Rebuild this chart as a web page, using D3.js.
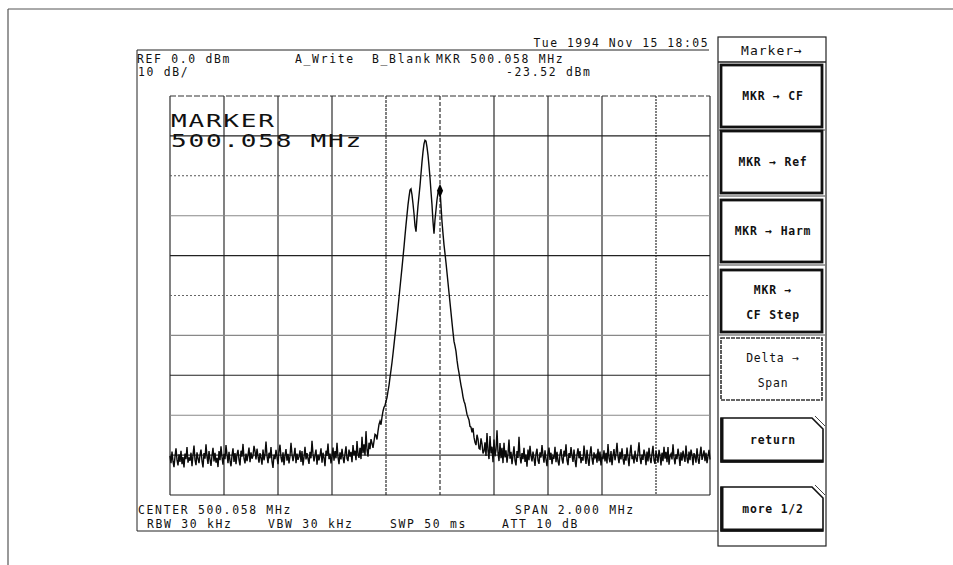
<!DOCTYPE html>
<html><head><meta charset="utf-8">
<script src="https://cdn.jsdelivr.net/npm/d3@7"></script>
<style>
body{margin:0;background:#fff}
svg{display:block}
text{font-family:"DejaVu Sans Mono","Liberation Mono",monospace;fill:#111}
</style>
</head><body><svg id="c" width="953" height="565"></svg>
<script>
// ---------------- data ----------------
const refLevelDbm = 0;
const dbPerDiv = 10;
const centerMHz = 500.058;
const spanMHz = 2.0;
const markerMHz = 500.058;
const markerDbm = -23.52;

const headerLeft = ["REF 0.0 dBm", "10 dB/"];
const traceModes = ["A_Write", "B_Blank"];
const markerReadout = ["MKR 500.058 MHz", "-23.52 dBm"];
const dateStamp = "Tue 1994 Nov 15 18:05";
const bigMarker = ["MARKER", "500.058 MHz"];
const footerRow1 = ["CENTER 500.058 MHz", "SPAN 2.000 MHz"];
const footerRow2 = ["RBW 30 kHz", "VBW 30 kHz", "SWP 50 ms", "ATT 10 dB"];
const menuTitle = "Marker→";
const softkeys = [["MKR → CF"], ["MKR → Ref"], ["MKR → Harm"], ["MKR →", "CF Step"], ["Delta →", "Span"]];
const navKeys = ["return", "more 1/2"];

// sweep trace levels (dBm); sweep points equally spaced across the span
const levelsLeft = [
-90.2,-92.0,-89.1,-91.6,-93.0,-90.4,-88.3,-91.2,-92.6,-89.8,
-91.7,-88.9,-92.3,-90.5,-93.1,-89.6,-91.0,-88.0,-91.9,-90.6,
-91.4,-89.4,-92.8,-90.0,-87.6,-91.2,-92.5,-89.3,-90.8,-92.0,
-90.0,-88.6,-91.5,-93.1,-89.5,-90.9,-87.3,-90.4,-92.2,-89.0,
-91.1,-92.7,-90.1,-88.2,-91.6,-89.4,-91.9,-90.7,-93.0,-89.0,
-91.3,-87.8,-90.5,-92.4,-89.7,-91.0,-87.5,-89.9,-92.0,-89.2,
-91.4,-92.8,-90.1,-88.3,-91.7,-89.5,-92.3,-89.8,-88.7,-91.2,
-92.6,-88.9,-90.4,-87.2,-90.8,-92.1,-89.6,-91.5,-90.0,-88.1,
-91.8,-89.3,-90.9,-90.2,-87.7,-89.0,-91.1,-88.4,-90.3,-91.9,
-89.5,-90.7,-92.4,-88.6,-91.3,-89.9,-86.6,-90.2,-92.0,-89.4,
-90.8,-88.0,-91.6,-93.2,-89.9,-91.0,-88.7,-90.5,-92.3,-89.1,
-87.4,-90.6,-91.8,-89.3,-92.5,-90.0,-88.5,-91.4,-89.7,-92.1,
-90.3,-86.9,-89.8,-91.5,-90.1,-88.2,-92.0,-89.6,-91.2,-90.4,
-88.8,-91.7,-89.0,-92.6,-90.5,-87.9,-91.1,-89.5,-90.9,-92.2,
-89.2,-90.8,-86.4,-89.7,-91.6,-90.0,-88.6,-92.4,-89.9,-91.3,
-90.1,-88.3,-91.9,-89.4,-90.7,-92.8,-88.9,-90.2,-87.1,-91.0,
-89.6,-92.1,-90.3,-88.1,-91.4,-89.0,-90.8,-86.9,-90.5,-92.3,
-89.3,-91.1,-88.4,-90.6,-92.0,-89.7,-87.8,-90.9,-91.5,-88.6,
-90.4,-89.2,-91.8,-87.5,-90.0,-88.9,-91.3,-86.5,-89.8,-90.7,
-88.2,-91.0,-85.4,-89.5,-87.3,-90.1,-84.0,-88.7,-90.4,-86.9];
const levelsPeak = [
-88.5,-86.0,-87.0,-88.2,-86.5,-84.8,-85.0,-86.1,-84.0,-82.3,
-81.5,-82.4,-80.5,-79.0,-78.0,-77.6,-76.5,-75.6,-74.0,-72.5,
-70.5,-68.7,-66.8,-64.6,-62.3,-60.0,-57.8,-55.4,-53.0,-50.5,
-48.0,-45.5,-43.0,-40.4,-37.8,-35.0,-32.3,-29.8,-27.3,-25.3,
-23.6,-23.3,-24.8,-27.0,-29.5,-32.5,-34.0,-30.5,-27.5,-25.0,
-22.5,-19.5,-16.5,-14.0,-12.0,-11.1,-11.3,-12.8,-14.8,-17.5,
-20.5,-24.0,-27.3,-31.5,-34.5,-31.0,-28.5,-26.0,-24.3,-23.7,
-23.52,-27.5,-31.5,-34.5,-37.3,-39.5,-41.8,-44.3,-46.8,-49.3,
-51.8,-54.3,-56.8,-59.2,-61.5,-62.6,-64.0,-66.2,-68.0,-69.4,
-71.0,-72.5,-73.8,-75.4,-76.5,-77.2,-78.5,-79.8,-80.5,-81.2,
-82.8,-83.0,-84.3,-83.2,-85.5,-86.8,-87.5,-84.9,-86.0,-88.3,
-88.5,-85.8,-87.2,-89.6,-89.0];
const levelsRight = [
-86.8,-90.2,-84.5,-88.9,-91.0,-85.2,-89.6,-87.9,-91.8,-86.1,
-90.3,-88.7,-83.8,-89.4,-91.5,-87.0,-90.8,-88.2,-92.0,-86.9,
-90.6,-88.8,-91.9,-89.7,-86.1,-90.9,-89.2,-92.3,-90.0,-87.8,
-91.4,-92.6,-89.0,-90.7,-85.4,-90.3,-92.1,-89.5,-91.0,-88.2,
-91.7,-89.9,-92.9,-88.6,-91.3,-87.7,-90.2,-91.6,-89.1,-90.8,
-92.7,-89.6,-88.4,-91.4,-92.2,-89.3,-90.6,-87.5,-90.0,-91.9,
-88.8,-91.1,-92.8,-89.7,-88.1,-91.2,-89.4,-92.3,-90.3,-90.9,
-87.9,-91.8,-89.2,-91.5,-92.6,-89.8,-88.5,-91.0,-92.1,-88.9,
-90.4,-87.3,-91.3,-92.5,-89.5,-90.7,-88.0,-90.1,-91.7,-88.6,
-91.2,-93.0,-89.9,-88.3,-90.8,-89.0,-92.0,-90.5,-91.4,-87.6,
-90.2,-92.2,-88.7,-91.1,-92.7,-89.6,-87.8,-90.9,-92.4,-89.3,
-90.6,-90.0,-91.9,-88.4,-91.5,-89.1,-92.6,-90.3,-91.0,-88.8,
-91.6,-89.4,-92.1,-87.2,-90.7,-91.8,-89.0,-92.5,-90.1,-88.5,
-91.3,-89.7,-86.9,-90.4,-92.0,-89.2,-91.1,-88.3,-90.9,-92.4,
-89.8,-91.4,-88.1,-90.6,-92.8,-89.5,-87.4,-91.0,-90.2,-92.1,
-88.9,-90.8,-91.7,-89.3,-86.8,-90.5,-92.3,-89.9,-91.2,-88.6,
-90.0,-92.5,-89.1,-91.6,-88.2,-90.7,-92.0,-89.6,-87.7,-91.3,
-92.2,-89.0,-90.4,-91.9,-88.7,-90.1,-92.6,-89.4,-91.5,-87.9,
-90.9,-89.2,-91.8,-88.0,-92.4,-90.3,-89.7,-91.1,-87.3,-90.6,
-92.3,-89.8,-91.0,-88.4,-90.2,-92.7,-89.3,-91.4,-88.9,-90.5,
-91.7,-87.6,-90.8,-92.1,-89.1,-91.3,-88.6,-90.0,-92.5,-89.5,
-90.4,-91.9,-88.3,-90.9,-92.2,-89.7,-87.9,-91.2,-90.1,-88.8,
-91.5,-89.4,-92.0,-90.3,-88.7,-91.1];

// ---------------- drawing ----------------
const svg = d3.select("#c");
const levels = levelsLeft.concat(levelsPeak, levelsRight);
const nPts = levels.length;
const fStart = centerMHz - spanMHz / 2, fStop = centerMHz + spanMHz / 2;
const trace = levels.map((v, i) => ({f: fStart + i * spanMHz / (nPts - 1), v}));

const G = {l: 170, r: 710, t: 96, b: 495};
const x = d3.scaleLinear().domain([fStart, fStop]).range([G.l, G.r]);
const y = d3.scaleLinear().domain([refLevelDbm - 10 * dbPerDiv, refLevelDbm]).range([G.b, G.t]);

// page border
svg.append("line").attr("x1", 8).attr("y1", 9).attr("x2", 953).attr("y2", 9).attr("stroke", "#555").attr("stroke-width", 1);
svg.append("line").attr("x1", 8).attr("y1", 9).attr("x2", 8).attr("y2", 565).attr("stroke", "#555").attr("stroke-width", 1.2);

// screen frame
svg.append("path").attr("d", "M137,50 H709 M137,50 V531 H718").attr("fill", "none").attr("stroke", "#222").attr("stroke-width", 1);

// grid
const vStyles = ["", "", "", "", "3,1", "4,2", "", "", "", "2,1", ""];
const vTicks = d3.range(11).map(i => fStart + i * spanMHz / 10);
svg.append("g").selectAll("line").data(vTicks).join("line")
  .attr("x1", d => x(d)).attr("x2", d => x(d)).attr("y1", G.t).attr("y2", G.b)
  .attr("stroke", "#1a1a1a").attr("stroke-width", 1.1)
  .attr("stroke-dasharray", (d, i) => vStyles[i] || null);
const hTicks = d3.range(11).map(i => refLevelDbm - i * dbPerDiv);
const hCol = ["#333", "#222", "#555", "#888", "#222", "#666", "#888", "#222", "#888", "#333", "#222"];
const hDash = ["6,2", "", "2,2", "", "", "2,2", "", "", "", "", ""];
svg.append("g").selectAll("line").data(hTicks).join("line")
  .attr("x1", G.l).attr("x2", G.r).attr("y1", d => y(d)).attr("y2", d => y(d))
  .attr("stroke", (d, i) => hCol[i]).attr("stroke-width", 1.1)
  .attr("stroke-dasharray", (d, i) => hDash[i] || null);

// trace
const line = d3.line().x(d => x(d.f)).y(d => y(d.v));
svg.append("path").datum(trace).attr("d", line).attr("fill", "none")
  .attr("stroke", "#0a0a0a").attr("stroke-width", 1.4).attr("stroke-linejoin", "miter");

// marker symbol
svg.append("path").attr("d", d3.symbol(d3.symbolDiamond, 40)())
  .attr("transform", `translate(${x(markerMHz)},${y(markerDbm) + 1}) scale(0.9,1.2)`).attr("fill", "#000");

// text helpers
function small(tx, ty, s, anchor) {
  return svg.append("text").attr("x", tx).attr("y", ty).attr("font-size", 11.4)
    .attr("letter-spacing", "1.7px").attr("text-anchor", anchor || "start").text(s);
}
function big(tx, ty, s) {
  return svg.append("text").attr("transform", `translate(${tx},${ty}) scale(1.45,1)`)
    .attr("font-size", 18).attr("letter-spacing", "1.2px").text(s);
}

// header
small(137, 62.5, headerLeft[0]);
small(138, 76, headerLeft[1]);
small(295, 62.5, traceModes[0]);
small(372, 62.5, traceModes[1]);
small(436, 62.5, markerReadout[0]);
small(506, 76, markerReadout[1]);
small(709, 47, dateStamp, "end").attr("letter-spacing", "1.5px");

// big marker readout
big(171, 127, bigMarker[0]);
big(171, 147, bigMarker[1]);

// footer
small(138, 514, footerRow1[0]);
small(515, 514, footerRow1[1]);
small(147, 528, footerRow2[0]);
small(268, 528, footerRow2[1]);
small(390, 528, footerRow2[2]);
small(502, 528, footerRow2[3]);

// softkey panel
const P = {l: 718, r: 826, t: 37, b: 546};
svg.append("rect").attr("x", P.l).attr("y", P.t).attr("width", P.r - P.l).attr("height", P.b - P.t)
  .attr("fill", "none").attr("stroke", "#222").attr("stroke-width", 1.2);
svg.append("line").attr("x1", P.l).attr("x2", P.r).attr("y1", 62).attr("y2", 62).attr("stroke", "#222").attr("stroke-width", 1.5);
small(772, 55, menuTitle, "middle").attr("font-size", 13).attr("letter-spacing", "1px");

const keyTops = [65, 131, 200, 270, 338];
const keyH = 62;
softkeys.forEach((lab, k) => {
  const top = keyTops[k];
  const dim = k === 4;
  svg.append("rect").attr("x", 721).attr("y", top).attr("width", 101).attr("height", keyH)
    .attr("fill", "none").attr("stroke", dim ? "#333" : "#111")
    .attr("stroke-width", dim ? 1.6 : 2.8).attr("stroke-dasharray", dim ? "4,1" : null);
  if (k < 4) svg.append("line").attr("x1", 719).attr("x2", 825).attr("y1", top + keyH + 3).attr("y2", top + keyH + 3).attr("stroke", "#444").attr("stroke-width", 1);
  const cy = top + keyH / 2;
  const fw = dim ? "normal" : "bold";
  if (lab.length === 1) {
    small(773, cy + 4, lab[0], "middle").attr("letter-spacing", "0.8px").attr("font-weight", fw);
  } else {
    small(773, cy - 7, lab[0], "middle").attr("letter-spacing", "0.8px").attr("font-weight", fw).attr("fill", dim ? "#555" : "#111");
    small(773, cy + 18, lab[1], "middle").attr("letter-spacing", "0.8px").attr("font-weight", fw).attr("fill", dim ? "#555" : "#111");
  }
});

const navTops = [418, 487];
const navH = 44;
navKeys.forEach((lab, k) => {
  const t = navTops[k], b = t + navH;
  svg.append("path").attr("d", `M721,${t} H812 L823,${t + 11} V${b} H721 Z`)
    .attr("fill", "none").attr("stroke", "#111").attr("stroke-width", 1.6);
  svg.append("path").attr("d", `M722,${t} V${b - 1} H823`).attr("fill", "none").attr("stroke", "#111").attr("stroke-width", 3);
  svg.append("path").attr("d", `M815,${t - 2} L825,${t + 8}`).attr("stroke", "#444").attr("stroke-width", 1);
  small(773, t + navH / 2 + 4, lab, "middle").attr("letter-spacing", "0.8px").attr("font-weight", "bold");
});
</script>
</body></html>
